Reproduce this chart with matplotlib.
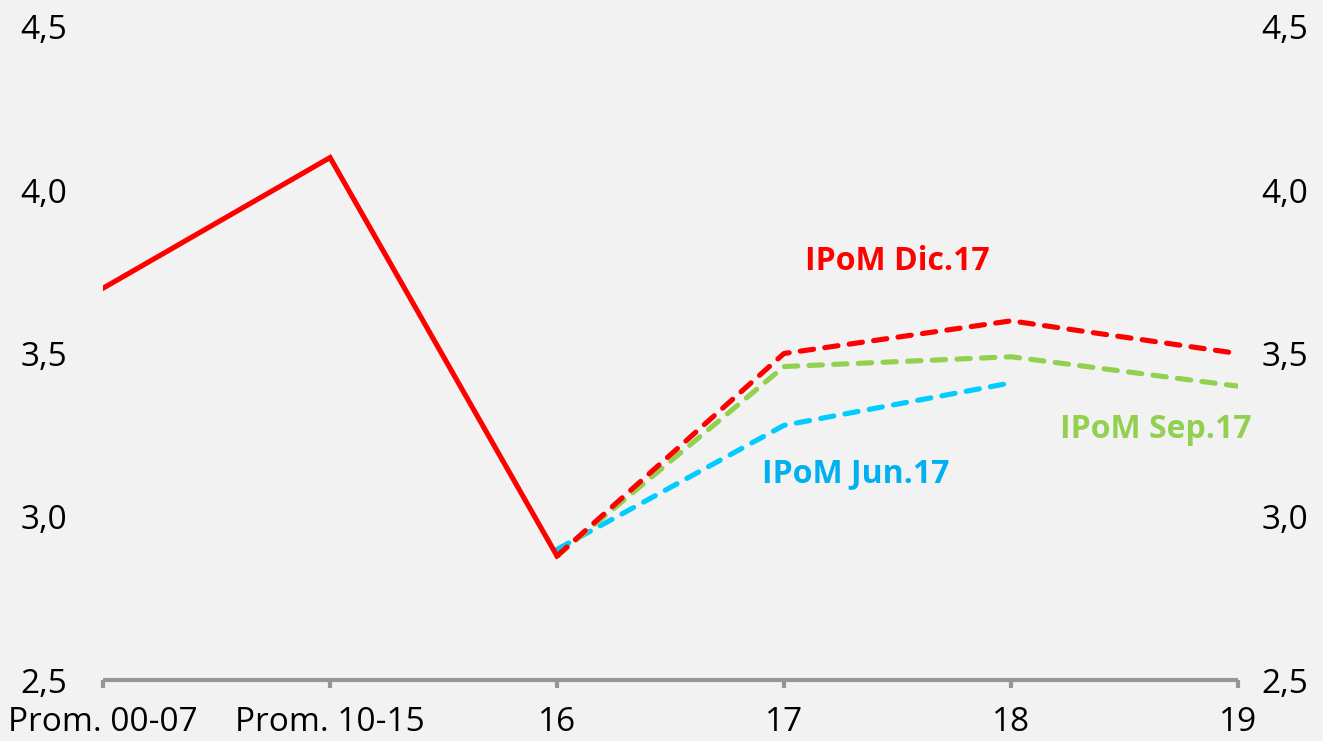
import matplotlib.pyplot as plt

categorias = ['Prom. 00-07', 'Prom. 10-15', '16', '17', '18', '19']
historico = [3.7, 4.1, 2.88]
ipom_dic = [2.88, 3.5, 3.6, 3.5]
ipom_sep = [2.88, 3.46, 3.49, 3.4]
ipom_jun = [2.9, 3.28, 3.41]
yticks = [2.5, 3.0, 3.5, 4.0, 4.5]

plt.rcParams['font.family'] = ['Open Sans', 'DejaVu Sans']
fondo = '#F2F2F2'

fig = plt.figure(figsize=(13.23, 7.41), dpi=100, facecolor=fondo)
ax = fig.add_axes([0.0779, 0.0823, 0.8578, 0.8813], facecolor=fondo)
x = list(range(len(categorias)))

lw = 3.7
dash = (0, (2.6, 2.2))
ax.plot(x[:3], historico, color='#FF0000', lw=lw, solid_joinstyle='miter', zorder=5)
ax.plot(x[2:6], ipom_dic, color='#FF0000', lw=lw, linestyle=dash,
        dash_capstyle='round', zorder=4)
ax.plot(x[2:6], ipom_sep, color='#92D050', lw=lw, linestyle=dash,
        dash_capstyle='round', zorder=3)
ax.plot(x[2:5], ipom_jun, color='#00CCFF', lw=lw, linestyle=dash,
        dash_capstyle='round', zorder=2)

ax.text(3.093, 3.783, 'IPoM Dic.17', color='#FF0000', fontsize=23, fontweight='bold',
        ha='left', va='center')
ax.text(4.216, 3.268, 'IPoM Sep.17', color='#92D050', fontsize=23, fontweight='bold',
        ha='left', va='center')
ax.text(2.903, 3.132, 'IPoM Jun.17', color='#00B0F0', fontsize=23, fontweight='bold',
        ha='left', va='center')

etiquetas = [f'{v:.1f}'.replace('.', ',') for v in yticks]

ax.set_xlim(0, 5)
ax.set_ylim(2.5, 4.5)
ax.set_yticks(yticks)
ax.set_yticklabels(etiquetas, fontsize=24)
ax.tick_params(axis='y', length=0, pad=26)
ax.set_xticks(x)
ax.set_xticklabels(categorias, fontsize=24)
ax.tick_params(axis='x', length=6, width=3, color='#969696', pad=13)

for s in ['top', 'left', 'right']:
    ax.spines[s].set_visible(False)
ax.spines['bottom'].set_color('#969696')
ax.spines['bottom'].set_linewidth(3)
ax.spines['bottom'].set_capstyle('butt')

ax2 = ax.secondary_yaxis('right')
ax2.set_yticks(yticks)
ax2.set_yticklabels(etiquetas, fontsize=24)
ax2.tick_params(length=0, pad=17)
ax2.spines['right'].set_visible(False)

fig.savefig('out.png', dpi=100, facecolor=fondo)
